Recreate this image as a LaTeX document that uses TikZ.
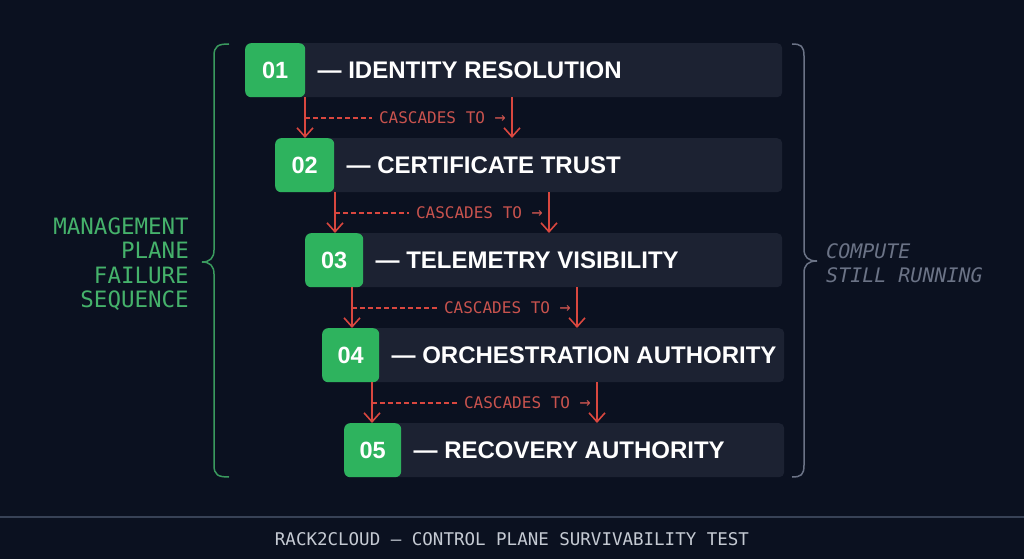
\documentclass[tikz,border=0pt]{standalone}
\usepackage{fontspec}
\usetikzlibrary{arrows.meta,positioning}
\newfontfamily\headfont{Liberation Sans}
\newfontfamily\codefont{DejaVu Sans Mono}
\definecolor{bgnavy}{HTML}{0B1120}
\definecolor{barslate}{HTML}{1C2232}
\definecolor{stepgreen}{HTML}{2EB35E}
\definecolor{bracegreen}{HTML}{3A9A5E}
\definecolor{labelgreen}{HTML}{45B26B}
\definecolor{cascred}{HTML}{D9473F}
\definecolor{cascredtext}{HTML}{C9534E}
\definecolor{computegray}{HTML}{6B7386}
\definecolor{footgray}{HTML}{C5CAD3}
\definecolor{rulegray}{HTML}{384256}
\newcommand{\cascarrow}{{\fontsize{18.5}{15}\selectfont →}}
\tikzset{
	stepbar/.style={fill=barslate, rounded corners=5pt, minimum height=54pt, inner sep=0pt, anchor=north west},
	stepnum/.style={fill=stepgreen, rounded corners=6pt, minimum height=54pt, minimum width=58pt, inner sep=0pt, anchor=north west, text=white, font=\headfont\bfseries\fontsize{23.5}{23.5}\selectfont},
	steptitle/.style={anchor=west, text=white, inner sep=0pt, font=\headfont\bfseries\fontsize{24}{24}\selectfont},
	cascade/.style={draw=cascred, line width=1.6pt, -{Straight Barb[length=9pt,width=16pt,line width=1.6pt]}},
	cascdash/.style={draw=cascred, line width=1.2pt, dash pattern=on 5pt off 3pt},
	casctext/.style={anchor=east, text=cascredtext, inner sep=0pt, font=\codefont\fontsize{16}{16}\selectfont},
}

\begin{document}
\begin{tikzpicture}[x=1pt, y=-1pt]
			%%%%% START %%%%%
			
			\useasboundingbox (0, 0) rectangle (1024, 559);
			\fill[bgnavy] (0, 0) rectangle (1024, 559);
			
			\node[stepbar, minimum width=537pt] (b1) at (245, 43) {};
			\node[stepnum, minimum width=60pt] (n1) at (245, 43) {01};
			\node[steptitle, right=12pt of n1] (t1) {— IDENTITY RESOLUTION};
			
			\node[stepbar, minimum width=507pt] (b2) at (275, 138) {};
			\node[stepnum, minimum width=59pt] (n2) at (275, 138) {02};
			\node[steptitle, right=12pt of n2] (t2) {— CERTIFICATE TRUST};
			
			\node[stepbar, minimum width=477pt] (b3) at (305, 233) {};
			\node[stepnum] (n3) at (305, 233) {03};
			\node[steptitle, right=12pt of n3] (t3) {— TELEMETRY VISIBILITY};
			
			\node[stepbar, minimum width=462pt] (b4) at (322, 328) {};
			\node[stepnum, minimum width=57pt] (n4) at (322, 328) {04};
			\node[steptitle, right=12pt of n4] (t4) {— ORCHESTRATION AUTHORITY};
			
			\node[stepbar, minimum width=440pt] (b5) at (344, 423) {};
			\node[stepnum, minimum width=57pt] (n5) at (344, 423) {05};
			\node[steptitle, right=12pt of n5] (t5) {— RECOVERY AUTHORITY};
			
			\coordinate (l1) at (305, 0);
			\coordinate (r1) at (512, 0);
			\draw[cascade] (l1 |- b1.south) -- (l1 |- b2.north);
			\draw[cascade] (r1 |- b1.south) -- (r1 |- b2.north);
			\node[casctext] (c1) at (506, 118) {CASCADES TO \cascarrow};
			\draw[cascdash] (l1 |- c1) -- ([xshift=-7pt]c1.west);
			
			\coordinate (l2) at (335, 0);
			\coordinate (r2) at (549, 0);
			\draw[cascade] (l2 |- b2.south) -- (l2 |- b3.north);
			\draw[cascade] (r2 |- b2.south) -- (r2 |- b3.north);
			\node[casctext] (c2) at (543, 213) {CASCADES TO \cascarrow};
			\draw[cascdash] (l2 |- c2) -- ([xshift=-7pt]c2.west);
			
			\coordinate (l3) at (352, 0);
			\coordinate (r3) at (577, 0);
			\draw[cascade] (l3 |- b3.south) -- (l3 |- b4.north);
			\draw[cascade] (r3 |- b3.south) -- (r3 |- b4.north);
			\node[casctext] (c3) at (571, 308) {CASCADES TO \cascarrow};
			\draw[cascdash] (l3 |- c3) -- ([xshift=-7pt]c3.west);
			
			\coordinate (l4) at (372, 0);
			\coordinate (r4) at (597, 0);
			\draw[cascade] (l4 |- b4.south) -- (l4 |- b5.north);
			\draw[cascade] (r4 |- b4.south) -- (r4 |- b5.north);
			\node[casctext] (c4) at (591, 403) {CASCADES TO \cascarrow};
			\draw[cascdash] (l4 |- c4) -- ([xshift=-7pt]c4.west);
			
			\draw[bracegreen, line width=1.5pt] (229, 44) .. controls (218, 44) and (214, 46) .. (214, 56) -- (214, 250) .. controls (214, 258) and (210, 262) .. (202, 262) .. controls (210, 262) and (214, 266) .. (214, 274) -- (214, 465) .. controls (214, 475) and (218, 477) .. (229, 477);
			\node[anchor=east, align=right, inner sep=0pt, text=labelgreen, font=\codefont\fontsize{22.5}{24.5}\selectfont] (mgmt) at (189, 264) {MANAGEMENT\\PLANE\\FAILURE\\SEQUENCE};
			
			\draw[computegray, line width=1.5pt] (792, 44) .. controls (801, 44) and (804, 46) .. (804, 56) -- (804, 249) .. controls (804, 257) and (808, 261) .. (817, 261) .. controls (808, 261) and (804, 265) .. (804, 273) -- (804, 465) .. controls (804, 475) and (801, 477) .. (792, 477);
			\node[anchor=west, align=left, inner sep=0pt, text=computegray, font=\codefont\itshape\fontsize{20}{24}\selectfont] (compute) at (826, 263) {COMPUTE\\STILL RUNNING};
			
			\draw[rulegray, line width=1.5pt] (0, 517) -- (1024, 517);
			\node[text=footgray, font=\codefont\fontsize{17.5}{17.5}\selectfont] (foot) at (512, 539) {RACK2CLOUD — CONTROL PLANE SURVIVABILITY TEST};
			
			%%%%% END %%%%%
		\end{tikzpicture}
\end{document}
